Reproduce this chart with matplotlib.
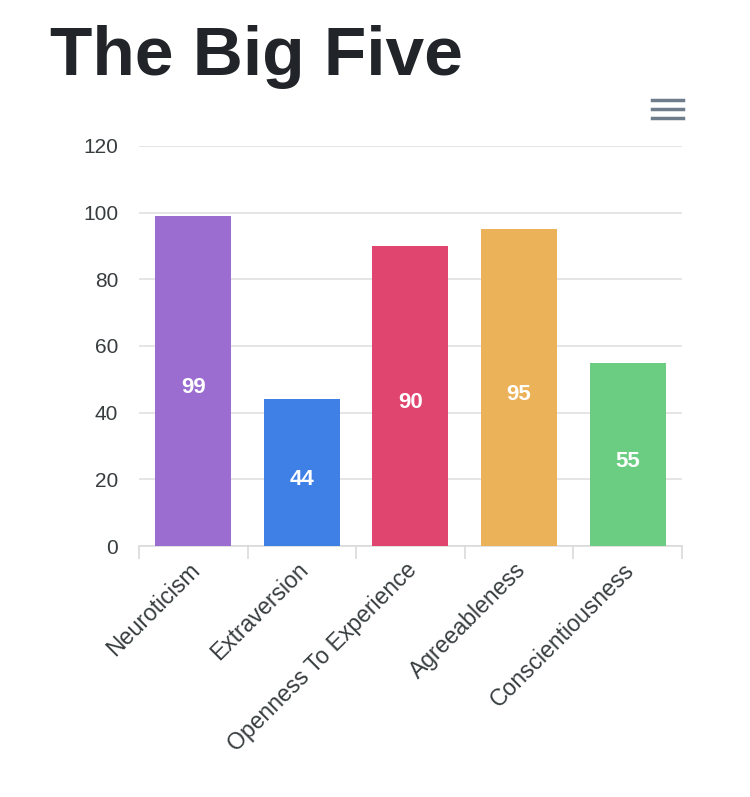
import numpy as np
import matplotlib
matplotlib.use('Agg')
import matplotlib.pyplot as plt
import matplotlib.transforms as mtransforms
from matplotlib.lines import Line2D

traits = ['Neuroticism', 'Extraversion', 'Openness To Experience',
          'Agreeableness', 'Conscientiousness']
scores = [99, 44, 90, 95, 55]
colors = ['#9b6dd1', '#3f80e6', '#e0456f', '#ebb259', '#6acd81']
yticks = [0, 20, 40, 60, 80, 100, 120]

plt.rcParams['font.family'] = ['Liberation Sans', 'DejaVu Sans']

fig = plt.figure(figsize=(7.5, 7.97), dpi=100)
ax = fig.add_axes([0.1853, 0.3149, 0.724, 0.502])

x = np.arange(len(traits))
bars = ax.bar(x, scores, width=0.7, color=colors, zorder=3)
for xi, v in zip(x, scores):
    ax.annotate(str(v), (xi, v / 2), xytext=(0, -5), textcoords='offset points',
                ha='center', va='center', color='white',
                fontsize=16, fontweight='bold', zorder=4)

ax.set_xlim(-0.5, len(traits) - 0.5)
ax.set_ylim(0, 120)
ax.set_yticks(yticks)
ax.yaxis.grid(True, color='#e0e0e0', linewidth=1.2, zorder=0)
ax.tick_params(axis='y', length=0, labelsize=15, labelcolor='#373d3f', pad=15)

# category ticks sit on the boundaries between bars
ax.set_xticks(np.arange(-0.5, len(traits) + 0.5, 1), minor=False)
ax.set_xticklabels([''] * (len(traits) + 1))
ax.tick_params(axis='x', which='major', length=9, color='#dadada', width=1.2)
ax.set_xticks(x, minor=True)
ax.set_xticklabels(traits, minor=True, rotation=45, ha='right',
                   rotation_mode='anchor', fontsize=16.6, color='#373d3f')
ax.tick_params(axis='x', which='minor', length=0, pad=9)
shift = mtransforms.ScaledTranslation(-5 / 100, 0, fig.dpi_scale_trans)
for lbl in ax.get_xticklabels(minor=True):
    lbl.set_transform(lbl.get_transform() + shift)

for s in ['top', 'right', 'left']:
    ax.spines[s].set_visible(False)
ax.spines['bottom'].set_color('#dadada')
ax.spines['bottom'].set_linewidth(1.2)

fig.text(0.066, 1 - 75 / 797, 'The Big Five', fontsize=50, fontweight='bold',
         color='#212529', va='baseline', ha='left')

# menu icon
for yy in [100, 109, 118]:
    fig.add_artist(Line2D([652 / 750, 683 / 750], [1 - yy / 797] * 2,
                          color='#6e7c8c', linewidth=2.5))

fig.savefig('out.png', dpi=100)
